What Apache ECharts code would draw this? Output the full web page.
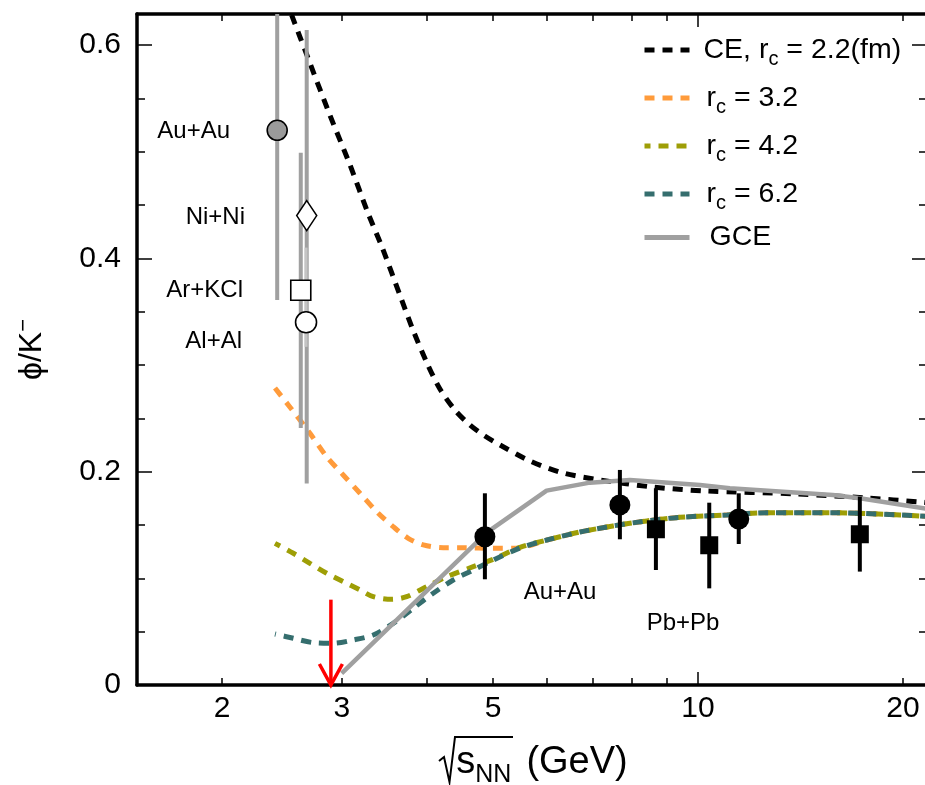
<!DOCTYPE html>
<html>
<head>
<meta charset="utf-8">
<title>phi/K- vs sqrt(sNN)</title>
<script src="https://cdn.jsdelivr.net/npm/echarts@6.0.0/dist/echarts.min.js"></script>
<style>
html, body { margin: 0; padding: 0; background: #fff; }
#chart { width: 925px; height: 785px; }
</style>
</head>
<body>
<div id="chart"></div>
<script>
// model curves
var ceX = [2.475, 2.531, 2.692, 2.881, 3.083, 3.276, 3.435, 3.663, 3.815, 3.999, 4.179, 4.396, 4.625, 4.865, 5.119, 5.666, 6.334, 7.178, 8.587, 10.24, 13.97, 17.70, 21.18, 21.7];
var ceY = [0.644, 0.628, 0.583, 0.534, 0.4875, 0.4425, 0.4106, 0.3628, 0.3328, 0.3019, 0.2775, 0.2578, 0.2438, 0.2334, 0.225, 0.21, 0.1988, 0.1922, 0.1856, 0.1819, 0.1791, 0.1753, 0.1716, 0.171];

var r32X = [2.392, 2.502, 2.692, 2.849, 3.013, 3.189, 3.392, 3.568, 3.754, 3.950, 4.226, 4.522, 5.005, 5.44, 6.0, 6.709, 7.501, 8.414, 9.407, 11.03, 12.63, 15.78, 19.79, 21.7];
var r32Y = [0.2784, 0.2625, 0.236, 0.214, 0.1969, 0.1797, 0.161, 0.1484, 0.1375, 0.1313, 0.1287, 0.1287, 0.1282, 0.1284, 0.1359, 0.1434, 0.1491, 0.1538, 0.1572, 0.1594, 0.1615, 0.1615, 0.1594, 0.158];

var r42X = [2.392, 2.545, 2.692, 2.849, 3.013, 3.189, 3.335, 3.549, 3.734, 3.995, 4.274, 4.677, 5.005, 5.477, 6.0, 6.709, 7.501, 8.414, 9.407, 11.03, 12.63, 15.78, 19.79, 21.7];
var r42Y = [0.1328, 0.1235, 0.1141, 0.1047, 0.0969, 0.0891, 0.0828, 0.0803, 0.0828, 0.0922, 0.1015, 0.1109, 0.1178, 0.1290, 0.1359, 0.1434, 0.1491, 0.1538, 0.1572, 0.1594, 0.1615, 0.1615, 0.1594, 0.158];

var r62X = [2.392, 2.545, 2.723, 2.913, 3.117, 3.335, 3.568, 3.818, 4.085, 4.371, 4.677, 5.005, 5.477, 6.0, 6.709, 7.501, 8.414, 9.407, 11.03, 12.63, 15.78, 19.79, 21.7];
var r62Y = [0.0478, 0.0438, 0.0397, 0.0391, 0.0422, 0.0469, 0.0578, 0.0719, 0.086, 0.0984, 0.1078, 0.1172, 0.1284, 0.1359, 0.1434, 0.1491, 0.1538, 0.1572, 0.1594, 0.1615, 0.1615, 0.1594, 0.158];

var gceX = [2.997, 4.9, 5.994, 6.939, 7.944, 10.07, 11.14, 15.78, 17.29, 21.7];
var gceY = [0.011, 0.143, 0.1822, 0.1897, 0.1922, 0.1875, 0.1844, 0.1781, 0.175, 0.1652];

// measurements
var lowNames = ['Au+Au', 'Ni+Ni', 'Ar+KCl', 'Al+Al'];
var lowX = [2.41, 2.663, 2.61, 2.657];
var lowY = [0.52, 0.44, 0.37, 0.34];
var lowLo = [0.361, 0.189, 0.241, 0.317];
var lowHi = [0.679, 0.614, 0.499, 0.41];

var auX = [4.865, 7.68, 11.48];
var auY = [0.139, 0.1688, 0.1556];
var auLo = [0.0991, 0.1366, 0.1322];
var auHi = [0.1797, 0.2016, 0.1797];

var pbX = [8.675, 10.39, 17.29];
var pbY = [0.146, 0.131, 0.1413];
var pbLo = [0.1078, 0.0906, 0.1063];
var pbHi = [0.1844, 0.1709, 0.1766];

var arrowX = [2.89];
var arrowTop = [0.08];
var arrowBottom = [0];

// axes
var xLabels = [2, 3, 5, 10, 20];
var xMinorTicks = [2, 3, 4, 5, 6, 7, 8, 9, 20];
var xMajorTicks = [10];
var yLabels = [0, 0.2, 0.4, 0.6];
var yMinorTicks = [0, 0.05, 0.1, 0.15, 0.2, 0.25, 0.3, 0.35, 0.4, 0.45, 0.5, 0.55, 0.6];

var FONT = 'Liberation Sans, Arial, Helvetica, sans-serif';
var DASH = [10, 8];
var myChart = echarts.init(document.getElementById('chart'));

function pairs(xs, ys) {
    return xs.map(function (x, i) { return [x, ys[i]]; });
}
function bars(xs, lo, hi) {
    return xs.map(function (x, i) { return [x, lo[i], hi[i]]; });
}
function errorBar(w) {
    return function (params, api) {
        var x = api.value(0);
        var top = api.coord([x, api.value(2)]);
        var bot = api.coord([x, api.value(1)]);
        var rect = echarts.graphic.clipRectByRect(
            { x: top[0] - w / 2, y: top[1], width: w, height: bot[1] - top[1] },
            { x: params.coordSys.x, y: params.coordSys.y, width: params.coordSys.width, height: params.coordSys.height }
        );
        if (!rect) return null;
        return { type: 'rect', shape: rect, style: { fill: api.visual('color') } };
    };
}

var lowSymbols = {
    'Au+Au': { symbol: 'circle', symbolSize: 20, itemStyle: { color: '#9a9a9a' } },
    'Ni+Ni': { symbol: 'diamond', symbolSize: [20, 30], itemStyle: { color: '#fff' } },
    'Ar+KCl': { symbol: 'rect', symbolSize: 20, itemStyle: { color: '#fff' } },
    'Al+Al': { symbol: 'circle', symbolSize: 21, itemStyle: { color: '#fff' } }
};
var lowPoints = lowNames.map(function (n, i) {
    var s = lowSymbols[n];
    return { name: n, value: [lowX[i], lowY[i]], symbol: s.symbol, symbolSize: s.symbolSize, itemStyle: s.itemStyle };
});
var lowBars = bars(lowX, lowLo, lowHi);

var legendText = {
    'CE': '{p|CE, r}{s|c}{n| = 2.2(fm)}',
    'r32': '{q|r}{s|c}{n| = 3.2}',
    'r42': '{q|r}{s|c}{n| = 4.2}',
    'r62': '{q|r}{s|c}{n| = 6.2}',
    'GCE': '{g|GCE}'
};

function xAxisBase(pos, ticks, len, withLine, withLabel) {
    return {
        type: 'log', logBase: 10, min: 1.5, max: 21.7, position: pos,
        axisLine: { show: withLine, onZero: false, lineStyle: { color: '#000', width: 3.5 } },
        axisTick: { inside: true, length: len, customValues: ticks, lineStyle: { color: '#000', width: 1.5 } },
        axisLabel: withLabel ? { customValues: xLabels, fontSize: 30, color: '#000', fontFamily: FONT, margin: 9, formatter: function (v) { return String(v); } } : { show: false },
        splitLine: { show: false }
    };
}
function yAxisBase(pos, ticks, len, withLine, withLabel) {
    return {
        type: 'value', min: 0, max: 0.629, position: pos,
        axisLine: { show: withLine, onZero: false, lineStyle: { color: '#000', width: 3.5 } },
        axisTick: { inside: true, length: len, customValues: ticks, lineStyle: { color: '#000', width: 1.5 } },
        axisLabel: withLabel ? { customValues: yLabels, fontSize: 30, color: '#000', fontFamily: FONT, margin: 16 } : { show: false },
        splitLine: { show: false }
    };
}

var xMain = xAxisBase('bottom', xMinorTicks, 7, true, true);
xMain.name = '{r| }{s|s}{b|NN}{g|(GeV)}';
xMain.nameLocation = 'middle';
xMain.nameGap = 53;
xMain.nameTextStyle = {
    color: '#000', fontFamily: FONT, fontSize: 38,
    rich: {
        r: { width: 20, fontSize: 38, lineHeight: 50, fontFamily: FONT },
        s: { fontSize: 38, lineHeight: 50, fontFamily: FONT },
        b: { fontSize: 25, lineHeight: 25, padding: [25, 0, 0, 0], fontFamily: FONT },
        g: { fontSize: 38, lineHeight: 50, padding: [0, 0, 0, 15], fontFamily: FONT }
    }
};

var yMain = yAxisBase('left', yMinorTicks, 8, true, false);
yMain.name = '{a|ϕ/K}{b|−}';
yMain.nameLocation = 'middle';
yMain.nameGap = 86;
yMain.nameTextStyle = {
    color: '#000', fontFamily: FONT, fontSize: 32,
    rich: {
        a: { fontSize: 32, lineHeight: 38, fontFamily: FONT },
        b: { fontSize: 22, lineHeight: 22, padding: [0, 0, 16, 0], fontFamily: FONT }
    }
};

var option = {
    animation: false,
    backgroundColor: '#fff',
    grid: { left: 137, top: 14, width: 790, height: 671, containLabel: false, outerBoundsMode: 'none' },
    xAxis: [
        xMain,
        xAxisBase('bottom', xMajorTicks, 13, false, false),
        xAxisBase('top', xMinorTicks, 7, true, false),
        xAxisBase('top', xMajorTicks, 13, false, false)
    ],
    yAxis: [
        yMain,
        yAxisBase('left', yLabels, 15, false, true),
        yAxisBase('right', yMinorTicks, 8, true, false),
        yAxisBase('right', yLabels, 15, false, false)
    ],
    legend: {
        orient: 'vertical',
        left: 637,
        top: 26,
        itemWidth: 45,
        itemHeight: 10,
        itemGap: 10,
        selectedMode: false,
        itemStyle: { color: 'rgba(0,0,0,0)', borderColor: 'rgba(0,0,0,0)', borderWidth: 0, opacity: 0 },
        lineStyle: { width: 5 },
        data: ['CE', 'r32', 'r42', { name: 'r62', lineStyle: { width: 5, dashOffset: 0 } }, 'GCE'],
        formatter: function (name) { return legendText[name]; },
        textStyle: {
            color: '#000', fontFamily: FONT, fontSize: 28.5,
            rich: {
                n: { fontSize: 28.5, lineHeight: 38, fontFamily: FONT },
                p: { fontSize: 28.5, lineHeight: 38, padding: [0, 0, 0, 9], fontFamily: FONT },
                q: { fontSize: 28.5, lineHeight: 38, padding: [0, 0, 0, 12], fontFamily: FONT },
                g: { fontSize: 28.5, lineHeight: 38, padding: [0, 0, 0, 15], fontFamily: FONT },
                s: { fontSize: 20, lineHeight: 20, padding: [18, 0, 0, 0], fontFamily: FONT }
            }
        }
    },
    graphic: [
        { type: 'text', x: 230, y: 131, style: { text: 'Au+Au', align: 'right', verticalAlign: 'middle', fontSize: 24, fontFamily: FONT, fill: '#000' } },
        { type: 'text', x: 245, y: 217, style: { text: 'Ni+Ni', align: 'right', verticalAlign: 'middle', fontSize: 24, fontFamily: FONT, fill: '#000' } },
        { type: 'text', x: 243, y: 290, style: { text: 'Ar+KCl', align: 'right', verticalAlign: 'middle', fontSize: 24, fontFamily: FONT, fill: '#000' } },
        { type: 'text', x: 242, y: 341, style: { text: 'Al+Al', align: 'right', verticalAlign: 'middle', fontSize: 24, fontFamily: FONT, fill: '#000' } },
        { type: 'text', x: 560, y: 592, style: { text: 'Au+Au', align: 'center', verticalAlign: 'middle', fontSize: 24, fontFamily: FONT, fill: '#000' } },
        { type: 'text', x: 683, y: 623, style: { text: 'Pb+Pb', align: 'center', verticalAlign: 'middle', fontSize: 24, fontFamily: FONT, fill: '#000' } },
        // radical sign with overline for the x-axis title
        { type: 'polyline', shape: { points: [[439, 761], [444, 757], [449.5, 782], [455, 737], [513, 737]] }, style: { stroke: '#000', lineWidth: 2, fill: null } }
    ],
    series: [
        {
            name: 'CE', type: 'line', data: pairs(ceX, ceY), symbol: 'none', smooth: 0.3,
            lineStyle: { color: '#000', width: 5, type: DASH }, itemStyle: { color: '#000' }, z: 2
        },
        {
            name: 'r32', type: 'line', data: pairs(r32X, r32Y), symbol: 'none', smooth: 0.3,
            lineStyle: { color: '#ff9b3b', width: 5, type: DASH }, itemStyle: { color: '#ff9b3b' }, z: 2
        },
        {
            name: 'r42', type: 'line', data: pairs(r42X, r42Y), symbol: 'none', smooth: 0.3,
            lineStyle: { color: '#9e9e06', width: 5, type: DASH, dashOffset: 4 }, itemStyle: { color: '#9e9e06' }, z: 2
        },
        {
            name: 'r62', type: 'line', data: pairs(r62X, r62Y), symbol: 'none', smooth: 0.3,
            lineStyle: { color: '#356e6e', width: 5, type: DASH, dashOffset: 9 }, itemStyle: { color: '#356e6e' }, z: 2
        },
        {
            name: 'GCE', type: 'line', data: pairs(gceX, gceY), symbol: 'none',
            lineStyle: { color: '#a0a0a0', width: 4.5 }, itemStyle: { color: '#a0a0a0' }, z: 3
        },
        {
            type: 'custom', renderItem: errorBar(4), data: lowBars.slice(0, 3),
            itemStyle: { color: '#a0a0a0' }, encode: { x: 0, y: [1, 2] }, z: 4
        },
        {
            type: 'custom', renderItem: errorBar(3), data: lowBars.slice(3),
            itemStyle: { color: '#c4c4c4' }, encode: { x: 0, y: [1, 2] }, z: 4
        },
        {
            type: 'scatter', data: lowPoints,
            itemStyle: { borderColor: '#000', borderWidth: 1.6, opacity: 1 }, z: 5
        },
        {
            type: 'custom', renderItem: errorBar(4), data: bars(auX, auLo, auHi).concat(bars(pbX, pbLo, pbHi)),
            itemStyle: { color: '#000' }, encode: { x: 0, y: [1, 2] }, z: 4
        },
        {
            type: 'scatter', data: pairs(auX, auY), symbol: 'circle', symbolSize: 21,
            itemStyle: { color: '#000', opacity: 1 }, z: 5
        },
        {
            type: 'scatter', data: pairs(pbX, pbY), symbol: 'rect', symbolSize: 18,
            itemStyle: { color: '#000', opacity: 1 }, z: 5
        },
        {
            type: 'custom', data: [[arrowX[0], arrowTop[0], arrowBottom[0]]], encode: { x: 0, y: [1, 2] }, z: 6,
            renderItem: function (params, api) {
                var x = api.value(0);
                var a = api.coord([x, api.value(1)]);
                var b = api.coord([x, api.value(2)]);
                return {
                    type: 'group',
                    children: [
                        { type: 'line', shape: { x1: a[0], y1: a[1], x2: b[0], y2: b[1] - 2 }, style: { stroke: '#ff0000', lineWidth: 3.5 } },
                        { type: 'polyline', shape: { points: [[b[0] - 11.5, b[1] - 21], [b[0], b[1]], [b[0] + 11.5, b[1] - 21]] }, style: { stroke: '#ff0000', lineWidth: 3.5, fill: null } }
                    ]
                };
            }
        }
    ]
};

myChart.setOption(option);
</script>
</body>
</html>
